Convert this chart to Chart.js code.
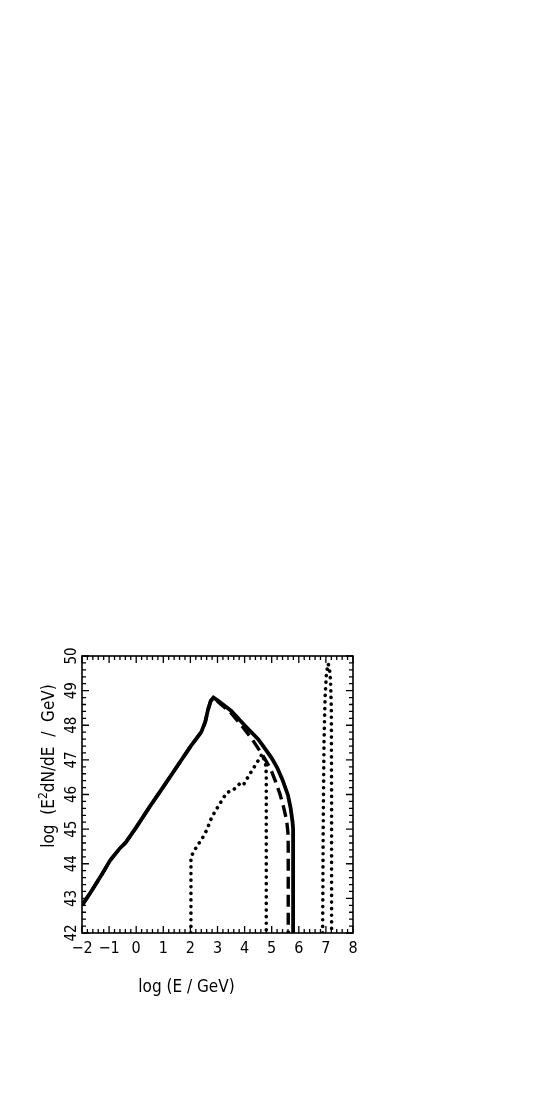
<!DOCTYPE html>
<html>
<head>
<meta charset="utf-8">
<script src="https://cdn.jsdelivr.net/npm/chart.js@4.4.1/dist/chart.umd.min.js"></script>
<style>
  html,body{margin:0;padding:0;background:#fff;}
  #c{display:block;}
</style>
</head>
<body>
<canvas id="c" width="544" height="1097"></canvas>
<script>
// log E (GeV) / log E^2 dN/dE (GeV)
const solidX  = [-2,-1.7,-1.3,-0.96,-0.6,-0.4,0,0.5,1.0,1.5,2.0,2.4,2.55,2.65,2.75,2.85,3.0,3.5,4.0,4.5,4.7,5.0,5.2,5.4,5.6,5.7,5.77,5.79,5.79];
const solidY  = [42.8,43.15,43.65,44.1,44.45,44.6,45.05,45.65,46.22,46.8,47.38,47.8,48.1,48.45,48.7,48.8,48.72,48.42,48.0,47.6,47.38,47.05,46.78,46.42,45.98,45.6,45.2,45.0,42];

const dashX   = [-2,-1.7,-1.3,-0.96,-0.6,-0.4,0,0.5,1.0,1.5,2.0,2.4,2.55,2.65,2.75,2.85,3.1,3.47,3.9,4.3,4.57,4.8,5.0,5.15,5.31,5.45,5.55,5.6,5.61,5.61];
const dashY   = [42.8,43.15,43.65,44.1,44.45,44.6,45.05,45.65,46.22,46.8,47.38,47.8,48.1,48.45,48.7,48.8,48.62,48.38,47.98,47.57,47.25,46.96,46.66,46.36,46.0,45.6,45.25,44.9,44.5,42];

const dot1X   = [2.02,2.02,2.23,2.45,2.6,2.79,3.09,3.34,3.58,3.83,3.95,4.2,4.44,4.65,4.78,4.8,4.8];
const dot1Y   = [42,44.2,44.49,44.75,44.97,45.35,45.74,46.05,46.13,46.32,46.27,46.6,46.9,47.17,46.85,46.6,42];

const dot2X   = [6.88,6.9,6.93,6.97,7.02,7.08,7.13,7.17,7.2,7.21,7.21];
const dot2Y   = [42,45,47.5,48.8,49.5,49.78,49.65,49.3,48.5,46,42];

const xTicks = [-2,-1,0,1,2,3,4,5,6,7,8];
const yTicks = [42,43,44,45,46,47,48,49,50];

const FONT = '"Liberation Sans Narrow","DejaVu Sans Condensed","Liberation Sans",sans-serif';

const pts = (xs,ys)=>xs.map((x,i)=>({x,y:ys[i]}));

const axesPlugin = {
  id:'axesDeco',
  afterDraw(chart){
    const {ctx, chartArea:a, scales:{x, y}} = chart;
    ctx.save();
    ctx.strokeStyle = '#000';
    ctx.lineWidth = 1.6;
    ctx.strokeRect(a.left, a.top, a.right-a.left, a.bottom-a.top);

    ctx.lineWidth = 1.3;
    ctx.beginPath();
    for(let v=-2; v<=8.001; v+=0.2){
      const px = x.getPixelForValue(v);
      const major = Math.abs(v-Math.round(v))<0.01;
      const len = major?7:4;
      ctx.moveTo(px,a.bottom); ctx.lineTo(px,a.bottom-len);
      ctx.moveTo(px,a.top); ctx.lineTo(px,a.top+len);
    }
    for(let v=42; v<=50.001; v+=0.2){
      const py = y.getPixelForValue(v);
      const major = Math.abs(v-Math.round(v))<0.01;
      const len = major?7:4;
      ctx.moveTo(a.left,py); ctx.lineTo(a.left+len,py);
      ctx.moveTo(a.right,py); ctx.lineTo(a.right-len,py);
    }
    ctx.stroke();

    ctx.fillStyle = '#000';
    ctx.font = '16px '+FONT;
    ctx.textAlign = 'center';
    ctx.textBaseline = 'middle';
    xTicks.forEach(v=>{
      ctx.fillText(String(v).replace('-','\u2212'), x.getPixelForValue(v), 949);
    });
    ctx.font = '15px '+FONT;
    yTicks.forEach(v=>{
      ctx.save();
      ctx.translate(72.5, y.getPixelForValue(v));
      ctx.rotate(-Math.PI/2);
      ctx.fillText(String(v),0,0);
      ctx.restore();
    });

    // x title
    ctx.font = '17px '+FONT;
    ctx.fillText('log (E / GeV)', 186.5, 988);

    // y title with superscript
    ctx.save();
    ctx.translate(50, 766);
    ctx.rotate(-Math.PI/2);
    const p1 = 'log  (E', p2 = '2', p3 = 'dN/dE  /  GeV)';
    ctx.font = '17px '+FONT;
    const w1 = ctx.measureText(p1).width, w3 = ctx.measureText(p3).width;
    ctx.font = '12px '+FONT;
    const w2 = ctx.measureText(p2).width;
    const tot = w1+w2+w3;
    let cx = -tot/2;
    ctx.textAlign = 'left';
    ctx.font = '17px '+FONT;
    ctx.fillText(p1, cx, 0); cx += w1;
    ctx.font = '12px '+FONT;
    ctx.fillText(p2, cx, -6); cx += w2;
    ctx.font = '17px '+FONT;
    ctx.fillText(p3, cx, 0);
    ctx.restore();

    ctx.restore();
  }
};

new Chart(document.getElementById('c'), {
  type:'scatter',
  data:{
    datasets:[
      {data:pts(dashX,dashY), showLine:true, borderColor:'#000', borderWidth:3.4, borderDash:[12,6], pointRadius:0, tension:0},
      {data:pts(solidX,solidY), showLine:true, borderColor:'#000', borderWidth:3.8, pointRadius:0, tension:0},
      {data:pts(dot1X,dot1Y), showLine:true, borderColor:'#000', borderWidth:3.6, borderDash:[0.1,6.5], borderCapStyle:'round', pointRadius:0, tension:0},
      {data:pts(dot2X,dot2Y), showLine:true, borderColor:'#000', borderWidth:3.6, borderDash:[0.1,6.5], borderCapStyle:'round', pointRadius:0, tension:0}
    ]
  },
  options:{
    responsive:false,
    animation:false,
    devicePixelRatio:1,
    layout:{padding:{left:82,right:191,top:656,bottom:164}},
    plugins:{legend:{display:false},tooltip:{enabled:false}},
    scales:{
      x:{type:'linear',min:-2,max:8,display:false},
      y:{type:'linear',min:42,max:50,display:false}
    }
  },
  plugins:[axesPlugin]
});
</script>
</body>
</html>
